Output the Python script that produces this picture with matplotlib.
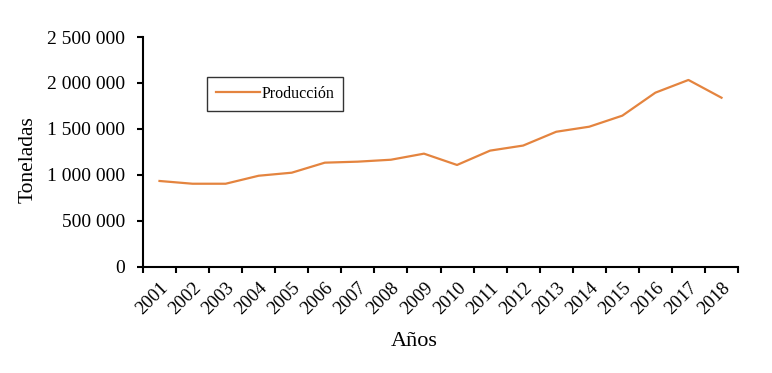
import matplotlib
matplotlib.use("Agg")
import matplotlib.pyplot as plt
from matplotlib.ticker import FuncFormatter, MultipleLocator

# Producción anual (toneladas)
years = [str(y) for y in range(2001, 2019)]
production = [935000, 905000, 905000, 992000, 1025000, 1134000, 1145000, 1166000, 1232000,
              1109000, 1265000, 1320000, 1470000, 1525000, 1645000, 1895000, 2033000, 1840000]

plt.rcParams['font.family'] = ['Liberation Serif', 'DejaVu Serif']

fig = plt.figure(figsize=(7.72, 3.73), dpi=100)
ax = fig.add_axes([0.1852, 0.2842, 0.7708, 0.6166])

x = list(range(len(years)))
ax.plot(x, production, color='#E4843F', lw=1.6, label='Producción')

ax.set_xlim(-0.5, len(years) - 0.5)
ax.set_ylim(0, 2500000)
ax.yaxis.set_major_locator(MultipleLocator(500000))
ax.yaxis.set_major_formatter(FuncFormatter(lambda v, p: f"{int(v):,}".replace(",", " ")))

# ticks between categories, labels at centers
ax.set_xticks([i - 0.5 for i in range(len(years) + 1)])
ax.set_xticklabels([])
ax.set_xticks(x, minor=True)
ax.set_xticklabels(years, minor=True, rotation=45, ha='right', va='top',
                   rotation_mode='anchor', fontsize=13.5)
ax.tick_params(axis='x', which='minor', length=0, pad=9)
ax.tick_params(axis='x', which='major', length=4, width=1.5, direction='out')
ax.tick_params(axis='y', length=4, width=1.5, direction='out', labelsize=14, pad=9)

for s in ['top', 'right']:
    ax.spines[s].set_visible(False)
for s in ['left', 'bottom']:
    ax.spines[s].set_linewidth(1.5)

ax.set_ylabel('Toneladas', fontsize=15.5, va='center')
ax.yaxis.set_label_coords(-0.193, 0.465)
ax.set_xlabel('Años', fontsize=16, va='center')
ax.xaxis.set_label_coords(0.455, -0.322)

leg = ax.legend(loc='upper left', bbox_to_anchor=(0.1076, 0.826), borderaxespad=0,
                fontsize=11.5, frameon=True, fancybox=False, edgecolor='black',
                handlelength=2.75, borderpad=0.55, handletextpad=0.1)
leg.get_frame().set_linewidth(1.0)

fig.savefig('out.png', dpi=100)
